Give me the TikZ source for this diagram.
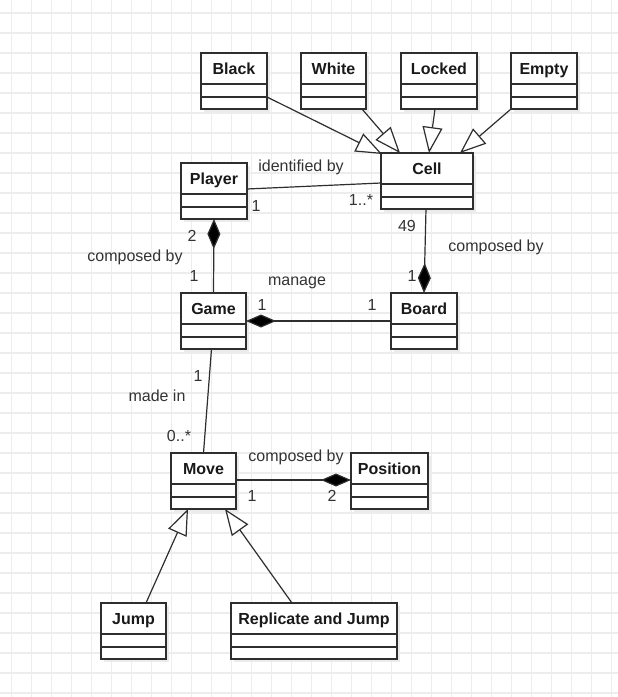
\documentclass[tikz,border=0pt]{standalone}
\usepackage{fontspec}
\setmainfont{Liberation Sans}
\usetikzlibrary{arrows.meta,calc}
\definecolor{gridc}{HTML}{EDEDED}
\definecolor{linec}{HTML}{2E2E2E}
\definecolor{shadc}{HTML}{EBEBEB}
\definecolor{txtc}{HTML}{333333}
\tikzset{
  cls/.style={draw=linec, line width=1.3pt, fill=white, inner sep=0pt, outer sep=0pt},
  cline/.style={draw=linec, line width=1.3pt},
  ttl/.style={font=\bfseries\fontsize{16}{18}\selectfont, text=black!90, inner sep=0pt, text height=11.5pt, text depth=3.4pt},
  lbl/.style={font=\fontsize{16}{18}\selectfont, text=txtc, inner sep=0pt, text height=11.5pt, text depth=3.4pt},
  conn/.style={draw=linec, line width=1.2pt},
  inh/.style={conn, -{Triangle[length=26pt, width=20pt, fill=white, line width=1.2pt]}},
  comp/.style={conn, {Diamond[length=30pt, width=13pt, fill=black]}-},
  gridline/.style={draw=gridc, line width=1.3pt}
}
\newcommand{\umlcls}[5]{%
  \fill[shadc] (#2+3,#3+3) rectangle ++(#4,56);
  \node[cls, anchor=north west, minimum width=#4, minimum height=56] (#1) at (#2,#3) {};
  \node[ttl] (#1-t) at ($(#1.north)+(0,17)$) {#5};
  \draw[cline] ($(#1.north west)+(0,31)$) -- ($(#1.north east)+(0,31)$);
  \draw[cline] ($(#1.north west)+(0,44)$) -- ($(#1.north east)+(0,44)$);
}
\begin{document}
\begin{tikzpicture}[x=1pt, y=-1pt]
\useasboundingbox (0,0) rectangle (618,697);
\fill[white] (0,0) rectangle (618,697);
\foreach \gx in {11.5,31.5,...,611.5} \draw[gridline] (\gx,0) -- (\gx,697);
\foreach \gy in {13,33,...,693} \draw[gridline] (0,\gy) -- (618,\gy);

\umlcls{black}{201}{53}{66}{Black}
\umlcls{white}{301}{53}{65}{White}
\umlcls{locked}{401}{53}{76}{Locked}
\umlcls{empty}{511}{53}{66}{Empty}
\umlcls{cell}{381}{153}{92}{Cell}
\umlcls{player}{181}{163}{66}{Player}
\umlcls{game}{181}{293}{65}{Game}
\umlcls{board}{391}{293}{66}{Board}
\umlcls{move}{171}{453}{65}{Move}
\umlcls{position}{351}{453}{77}{Position}
\umlcls{jump}{101}{603}{65}{Jump}
\umlcls{repl}{231}{603}{166}{Replicate and Jump}

% generalisations
\draw[inh] ($(black.north east)+(0,44)$) -- ($(cell.north west)+(1,1)$);
\draw[inh] ($(white.south east)+(-4,0)$) -- ($(cell.north west)+(19,0)$);
\draw[inh] ($(locked.south)+(-4,0)$) -- ($(cell.north)+(2,0)$);
\draw[inh] (empty.south west) -- ($(cell.north east)+(-13,0)$);
\draw[inh] ($(jump.north)+(12.5,0)$) -- ($(move.south)+(-15.5,0)$);
\draw[inh] ($(repl.north)+(-22,0)$) -- ($(move.south)+(21.5,0)$);

% associations
\draw[conn] ($(player.north east)+(0,26)$) -- ($(cell.north west)+(0,30)$);
\draw[comp] (board.north) -- ($(cell.south)+(-1,0)$);
\draw[comp] (player.south) -- (game.north);
\draw[comp] ($(game.north east)+(0,28)$) -- ($(board.north west)+(0,28)$);
\draw[conn] ($(game.south)+(-2,0)$) -- (move.north);
\draw[comp] ($(position.north west)+(0,27)$) -- ($(move.north east)+(0,27)$);

% labels
\node[lbl] (l-ident) at (301,167) {identified by};
\node[lbl] (l-p1) at (256,207) {1};
\node[lbl] (l-c1) at (361,201) {1..*};
\node[lbl] (l-49) at (407,227) {49};
\node[lbl] (l-compR) at (496,247) {composed by};
\node[lbl] (l-b1) at (412,277) {1};
\node[lbl] (l-p2) at (192,237) {2};
\node[lbl] (l-compL) at (135,257) {composed by};
\node[lbl] (l-g1) at (194,277) {1};
\node[lbl] (l-manage) at (297,281) {manage};
\node[lbl] (l-g2) at (262,306) {1};
\node[lbl] (l-b2) at (372,306) {1};
\node[lbl] (l-g3) at (198,377) {1};
\node[lbl] (l-made) at (157,397) {made in};
\node[lbl] (l-m0) at (179,437) {0..*};
\node[lbl] (l-compM) at (296,457) {composed by};
\node[lbl] (l-m1) at (252,497) {1};
\node[lbl] (l-pos2) at (332,497) {2};
\end{tikzpicture}
\end{document}
